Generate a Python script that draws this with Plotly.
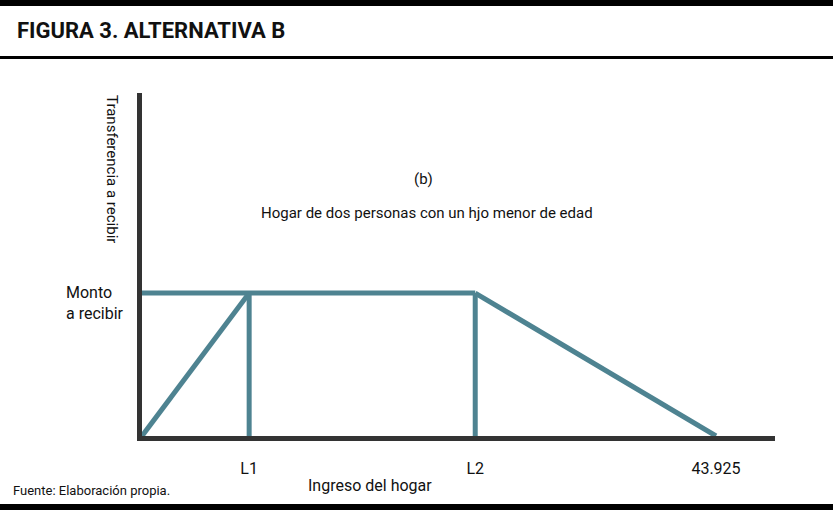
import plotly.graph_objects as go

# ---- data ----
L1 = 8200
L2 = 25500
X_END = 43925
MONTO = 1.0

tick_vals = [L1, L2, X_END]
tick_text = ["L1", "L2", "43.925"]

seg_rise_x = [0, L1]
seg_rise_y = [0, MONTO]
seg_flat_x = [0, L2]
seg_flat_y = [MONTO, MONTO]
seg_v1_x = [L1, L1]
seg_v1_y = [MONTO, 0]
seg_v2_x = [L2, L2]
seg_v2_y = [MONTO, 0]
seg_fall_x = [L2, X_END]
seg_fall_y = [MONTO, 0]

# ---- layout geometry ----
W, H = 833, 510
ML, MR, MT, MB = 142, 58, 93, 74
PW = W - ML - MR
PH = H - MT - MB

def px(x):
    return (x - ML) / PW

def py(y):
    return (H - MB - y) / PH

FONT = "Roboto, Liberation Sans, sans-serif"
TEAL = "#4e8391"
DARK = "#333333"

fig = go.Figure()
for xs, ys in [(seg_rise_x, seg_rise_y), (seg_flat_x, seg_flat_y),
               (seg_v1_x, seg_v1_y), (seg_v2_x, seg_v2_y),
               (seg_fall_x, seg_fall_y)]:
    fig.add_trace(go.Scatter(x=xs, y=ys, mode="lines",
                             line=dict(color=TEAL, width=5),
                             showlegend=False, hoverinfo="skip"))

fig.update_layout(
    width=W, height=H,
    margin=dict(l=ML, r=MR, t=MT, b=MB),
    paper_bgcolor="white", plot_bgcolor="white",
    font=dict(family=FONT, size=16, color="#111111"),
    xaxis=dict(range=[0, 48440], showgrid=False, zeroline=False,
               showline=True, linewidth=5, linecolor=DARK,
               tickvals=tick_vals, ticktext=tick_text,
               ticks="", ticklabelstandoff=14,
               tickfont=dict(size=16)),
    yaxis=dict(range=[0, 2.4], showgrid=False, zeroline=False,
               showline=True, linewidth=5, linecolor=DARK,
               showticklabels=False, ticks=""),
    shapes=[
        dict(type="rect", xref="paper", yref="paper",
             x0=px(0), x1=px(W), y0=py(6), y1=py(0),
             fillcolor="black", line=dict(width=0), layer="above"),
        dict(type="rect", xref="paper", yref="paper",
             x0=px(0), x1=px(W), y0=py(59), y1=py(56),
             fillcolor="black", line=dict(width=0), layer="above"),
        dict(type="rect", xref="paper", yref="paper",
             x0=px(0), x1=px(W), y0=py(510), y1=py(504),
             fillcolor="black", line=dict(width=0), layer="above"),
    ],
    annotations=[
        dict(text="<b>FIGURA 3. ALTERNATIVA B</b>", xref="paper", yref="paper",
             x=px(15), y=py(31), xanchor="left", yanchor="middle",
             showarrow=False, font=dict(size=22, color="#111111")),
        dict(text="Transferencia a recibir", xref="paper", yref="paper",
             x=px(112), y=py(169), xanchor="center", yanchor="middle",
             textangle=90, showarrow=False, font=dict(size=15)),
        dict(text="Monto<br>a recibir", xref="paper", yref="paper",
             x=px(64), y=py(303), xanchor="left", yanchor="middle",
             align="left", showarrow=False, font=dict(size=16)),
        dict(text="(b)", xref="paper", yref="paper",
             x=px(423), y=py(179), xanchor="center", yanchor="middle",
             showarrow=False, font=dict(size=15)),
        dict(text="Hogar de dos personas con un hjo menor de edad",
             xref="paper", yref="paper",
             x=px(427), y=py(213), xanchor="center", yanchor="middle",
             showarrow=False, font=dict(size=15)),
        dict(text="Ingreso del hogar", xref="paper", yref="paper",
             x=px(370), y=py(485), xanchor="center", yanchor="middle",
             showarrow=False, font=dict(size=16)),
        dict(text="Fuente: Elaboración propia.", xref="paper", yref="paper",
             x=px(11), y=py(490), xanchor="left", yanchor="middle",
             showarrow=False, font=dict(size=13)),
    ],
)

fig.write_html(
    "out.html",
    config={"displayModeBar": False},
    post_script="document.body.style.margin='0';document.body.style.padding='0';",
)
